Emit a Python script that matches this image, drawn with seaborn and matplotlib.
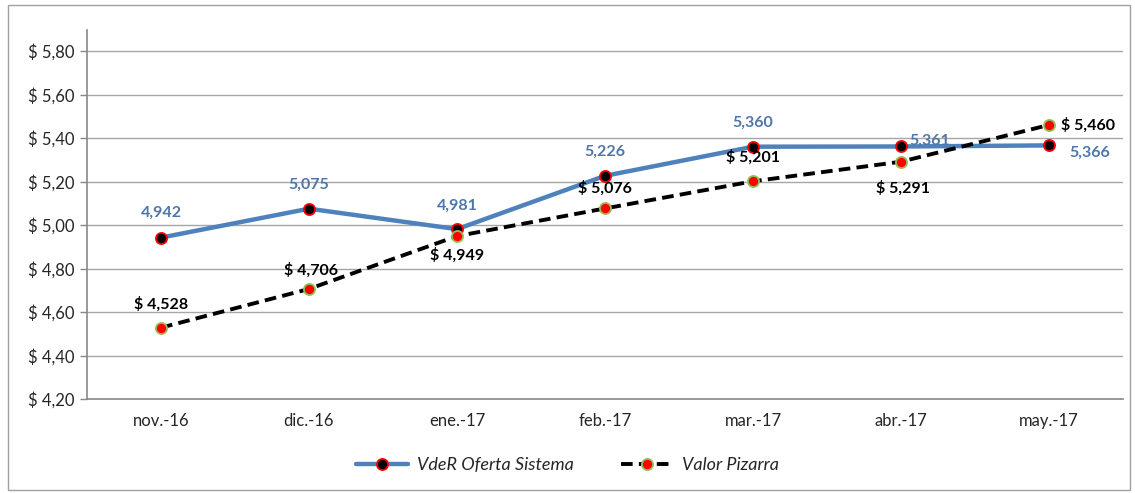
import matplotlib
matplotlib.use("Agg")
import matplotlib.pyplot as plt
import seaborn as sns
import pandas as pd
from matplotlib.patches import Rectangle
from matplotlib.lines import Line2D

months = ["nov.-16", "dic.-16", "ene.-17", "feb.-17", "mar.-17", "abr.-17", "may.-17"]
vder = [4.942, 5.075, 4.981, 5.226, 5.360, 5.361, 5.366]
pizarra = [4.528, 4.706, 4.949, 5.076, 5.201, 5.291, 5.460]
yticks = [4.20, 4.40, 4.60, 4.80, 5.00, 5.20, 5.40, 5.60, 5.80]

# label offsets in pixels (dx, dy) and alignment
vder_off = [(0, 25, "center"), (0, 24, "center"), (0, 23, "center"), (0, 24, "center"),
            (0, 24, "center"), (8, 6, "left"), (20, -7, "left")]
piz_off = [(0, 23, "center"), (2, 19, "center"), (0, -19, "center"), (0, 20, "center"),
           (0, 24, "center"), (2, -26, "center"), (12, 0, "left")]

sns.set_theme(style="white")
plt.rcParams["font.family"] = ["Lato", "DejaVu Sans"]

fig = plt.figure(figsize=(11.35, 4.93), dpi=100)
ax = fig.add_axes([87/1135, 1-399/493, (1123-87)/1135, (399-30)/493])

df = pd.DataFrame({"x": list(range(len(months))), "vder": vder, "piz": pizarra})
blue = "#4F81BD"
dash = (0, (3, 1.6))
sns.lineplot(data=df, x="x", y="vder", ax=ax, color=blue, linewidth=3.2,
             marker="o", markersize=8, markerfacecolor="black",
             markeredgecolor="red", markeredgewidth=1.3, zorder=3)
sns.lineplot(data=df, x="x", y="piz", ax=ax, color="black", linewidth=2.8,
             linestyle=dash, marker="o", markersize=8,
             markerfacecolor="red", markeredgecolor="#9BBB59", markeredgewidth=1.3, zorder=4)

for i, v in enumerate(vder):
    dx, dy, ha = vder_off[i]
    ax.annotate(f"{v:.3f}".replace(".", ","), (i, v), xytext=(dx, dy), textcoords="offset pixels",
                ha=ha, va="center", color="#4F76A8", fontsize=11.5, fontweight="bold", zorder=5)
for i, v in enumerate(pizarra):
    dx, dy, ha = piz_off[i]
    ax.annotate("$ " + f"{v:.3f}".replace(".", ","), (i, v), xytext=(dx, dy), textcoords="offset pixels",
                ha=ha, va="center", color="black", fontsize=11.5, fontweight="bold", zorder=5)

ax.set_xlim(-0.5, len(months) - 0.5)
ax.set_ylim(4.20, 4.20 + (399 - 30) / 217.5)
ax.set_yticks(yticks)
ax.set_yticklabels(["$ " + f"{t:.2f}".replace(".", ",") for t in yticks], fontsize=12)
ax.set_xticks(range(len(months)))
ax.set_xticklabels(months, fontsize=12)
ax.set_xticks([i - 0.5 for i in range(len(months) + 1)], minor=True)
ax.tick_params(axis="x", which="major", length=0, pad=10)
ax.tick_params(axis="x", which="minor", length=5, color="#888888", width=1, direction="out")
ax.tick_params(axis="y", length=5, color="#888888", width=1, direction="out", left=True, pad=4)
ax.set_xlabel("")
ax.set_ylabel("")
ax.grid(axis="y", color="#A6A6A6", linewidth=1)
ax.grid(axis="x", visible=False)
for s in ["top", "right"]:
    ax.spines[s].set_visible(False)
for s in ["left", "bottom"]:
    ax.spines[s].set_color("#888888")
    ax.spines[s].set_linewidth(1.2)
ax.set_axisbelow(True)

handles = [
    Line2D([0], [0], color=blue, linewidth=3.2, marker="o", markersize=8,
           markerfacecolor="black", markeredgecolor="red", markeredgewidth=1.3),
    Line2D([0], [0], color="black", linewidth=2.8, linestyle=dash, marker="o", markersize=8,
           markerfacecolor="red", markeredgecolor="#9BBB59", markeredgewidth=1.3),
]
fig.legend(handles, ["VdeR Oferta Sistema", "Valor Pizarra"], loc="center",
           bbox_to_anchor=(0.5, 1 - 465/493), ncol=2, frameon=False,
           prop={"style": "italic", "size": 13}, handlelength=2.9, handletextpad=0.5,
           columnspacing=2.6)

fig.patches.append(Rectangle((8/1135, 1 - 490/493), (1130-8)/1135, (490-5)/493,
                             transform=fig.transFigure, fill=False, edgecolor="#A0A0A0", linewidth=1))

fig.savefig("out.png", dpi=100)
